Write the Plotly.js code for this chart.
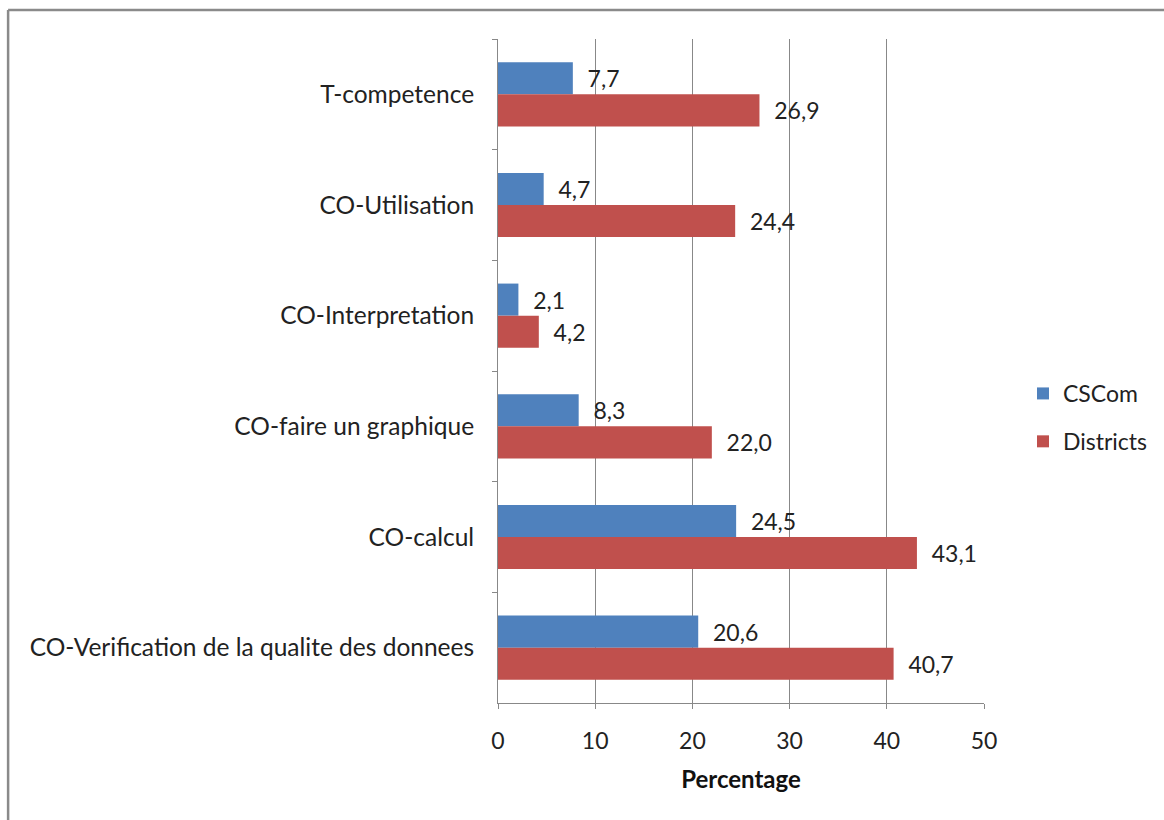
<!DOCTYPE html>
<html>
<head>
<meta charset="utf-8">
<script src="https://cdn.plot.ly/plotly-3.0.1.min.js"></script>
<style>html,body{margin:0;padding:0;background:#fff;}#chart{width:1164px;height:820px;}</style>
</head>
<body>
<div id="chart"></div>
<script>
const categories = ["T-competence", "CO-Utilisation", "CO-Interpretation", "CO-faire un graphique", "CO-calcul", "CO-Verification de la qualite des donnees"];
const cscom = [7.7, 4.7, 2.1, 8.3, 24.5, 20.6];
const districts = [26.9, 24.4, 4.2, 22.0, 43.1, 40.7];
const seriesNames = ["CSCom", "Districts"];
const xTicks = [0, 10, 20, 30, 40, 50];

const font = "Lato, 'Open Sans', sans-serif";
const pad = "\u00a0\u00a0";

const traces = [
  {type: "bar", orientation: "h", name: seriesNames[0], legendgroup: "a", y: categories, x: cscom,
   marker: {color: "#4F81BD"}, texttemplate: pad + "%{x:.1f}", textposition: "outside",
   cliponaxis: false, textfont: {family: font, size: 23, color: "#222"}},
  {type: "bar", orientation: "h", name: seriesNames[1], legendgroup: "b", y: categories, x: districts,
   marker: {color: "#C0504D"}, texttemplate: pad + "%{x:.1f}", textposition: "outside",
   cliponaxis: false, textfont: {family: font, size: 23, color: "#222"}}
];

const layout = {
  width: 1164, height: 820,
  margin: {l: 498, r: 179, t: 39, b: 117},
  paper_bgcolor: "#fff", plot_bgcolor: "#fff",
  separators: ", ",
  barmode: "group", bargap: 0.42, bargroupgap: 0,
  font: {family: font, size: 23, color: "#222"},
  showlegend: true,
  legend: {x: 1.078, xanchor: "left", y: 0.43, yanchor: "middle", traceorder: "grouped",
           font: {family: font, size: 23, color: "#222"}, tracegroupgap: 15},
  xaxis: {range: [0, 50], tickvals: xTicks, ticks: "outside", ticklen: 5, tickcolor: "#888",
          showgrid: true, gridcolor: "#888", gridwidth: 1, zeroline: false,
          showline: true, linecolor: "#888", linewidth: 1, ticklabelstandoff: 12,
          tickfont: {family: font, size: 23, color: "#222"},
          title: {text: "<b>Percentage</b>", font: {family: font, size: 24, color: "#111"}, standoff: 18}},
  yaxis: {type: "category", autorange: "reversed", tickson: "boundaries", ticks: "outside",
          ticklen: 5, tickcolor: "#888", showgrid: false, zeroline: false,
          showline: true, linecolor: "#888", linewidth: 1, ticklabelstandoff: 18,
          tickfont: {family: font, size: 24.5, color: "#222"}},
  shapes: [
    {type: "line", xref: "paper", yref: "paper", x0: -1.008, x1: 1.5, y0: 1.0437, y1: 1.0437,
     line: {color: "#8a8a8a", width: 2.5}},
    {type: "line", xref: "paper", yref: "paper", x0: -1.008, x1: -1.008, y0: 1.0437, y1: -0.3,
     line: {color: "#8a8a8a", width: 2.5}}
  ]
};

Plotly.newPlot("chart", traces, layout, {displayModeBar: false, staticPlot: true});
</script>
</body>
</html>
